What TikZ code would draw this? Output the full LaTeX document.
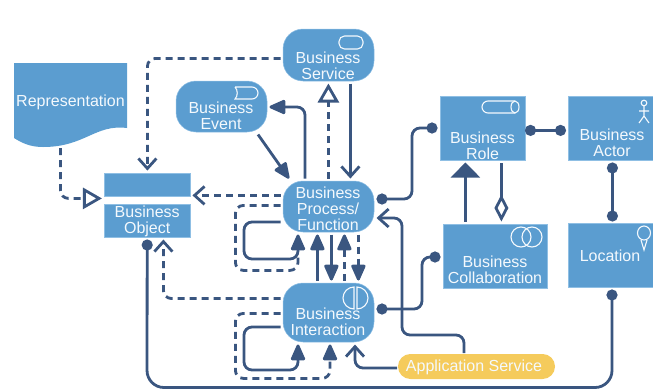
\documentclass[tikz,border=0pt]{standalone}
\usepackage{fontspec}
\setmainfont{Liberation Sans}
\usetikzlibrary{arrows.meta,shapes.geometric}
\definecolor{bluefill}{HTML}{5B9DD0}
\definecolor{blueedge}{HTML}{8FBFE4}
\definecolor{navy}{HTML}{3A5680}
\definecolor{gold}{HTML}{F5CB5C}
\definecolor{paletext}{HTML}{F4F9FD}
\tikzset{
  x=1pt,y=-1pt,
  boxnode/.style={draw=blueedge,line width=.5pt,fill=bluefill,inner sep=0pt,outer sep=2.5pt},
  roundnode/.style={boxnode,rounded corners=20pt,minimum width=91pt},
  txt/.style={text=paletext,font=\fontsize{16}{16}\selectfont,align=center,inner sep=0pt},
  icon/.style={draw=paletext,line width=1.1pt},
  conn/.style={draw=navy,line width=2.8pt,rounded corners=8pt},
  dashconn/.style={conn,dash pattern=on 7pt off 5pt},
  fulltip/.style={-{Triangle[length=18pt,width=15pt,fill=navy,round=false]}},
  hollowtip/.style={-{Triangle[open,length=19pt,width=21pt,line width=2.8pt]}},
  barbtip/.style={-{Straight Barb[length=10pt,width=18pt,line width=2.8pt]}},
  dotboth/.style={{Circle[length=11pt]}-{Circle[length=11pt]}}
}
\begin{document}
\begin{tikzpicture}
\useasboundingbox (0,0) rectangle (653,389);
% Representation
\fill[bluefill] (14,63) -- (127,63) -- (127,128) .. controls (95,124) and (85,147) .. (43,147) .. controls (30,147) and (22,143) .. (14,138) -- cycle;
\node[txt] (repT) at (70.5,102) {Representation};
\coordinate (repB) at (60.4,148);
% Object
\node[boxnode,minimum width=85.5pt,minimum height=23.5pt] (objH) at (147.2,184.8) {};
\node[boxnode,minimum width=85.5pt,minimum height=33pt] (obj) at (147.2,220.5) {};
\node[txt] at (147.2,221.3) {Business\\Object};
% Rounded nodes
\node[roundnode,minimum height=52pt] (svc) at (328.5,55) {};
\node[txt] at (328,65.5) {Business\\Service};
\node[roundnode,minimum height=51pt] (evt) at (221.5,106.5) {};
\node[txt] at (221,116) {Business\\Event};
\node[roundnode,minimum height=51pt] (prc) at (328.5,206.5) {};
\node[txt] at (328,209) {Business\\Process/\\Function};
\node[roundnode,minimum height=59pt] (itr) at (328.5,312.5) {};
\node[txt] at (328,322) {Business\\Interaction};
% Right boxes
\node[boxnode,minimum width=85pt,minimum height=64pt] (rol) at (482.5,128) {};
\node[txt] at (482.5,145.5) {Business\\Role};
\node[boxnode,minimum width=90pt,minimum height=64pt] (act) at (613.5,128) {};
\node[txt] at (612,143) {Business\\Actor};
\node[boxnode,minimum width=104pt,minimum height=64pt] (col) at (495,256) {};
\node[txt] at (495,269.5) {Business\\Collaboration};
\node[boxnode,minimum width=90pt,minimum height=64pt] (loc) at (613.5,255) {};
\node[txt] at (610,256) {Location};
\node[fill=gold,rounded corners=12.4pt,inner sep=0pt,minimum width=157pt,minimum height=25pt,outer sep=1pt] (app) at (476.5,366.5) {};
\node[txt] at (474,367) {Application Service};
% Icons
\draw[icon,rounded corners=5.5pt] (339,36) rectangle (363,49);
\draw[icon] (235,87) -- (252,87) arc[start angle=90,end angle=-90,x radius=6pt,y radius=6pt] -- (235,99) .. controls (238,96) and (238,90) .. (235,87);
\draw[icon] (519,107) arc[start angle=0,end angle=360,x radius=4pt,y radius=6pt];
\draw[icon] (515,101) -- (488,101) arc[start angle=90,end angle=270,x radius=6pt,y radius=6pt] -- (515,113);
\draw[icon] (644,103) circle[radius=2.8pt] (644,106) -- (644,116) (639,111) -- (649,111) (639,123) -- (644,116) -- (649,123);
\draw[icon] (521,237) circle[radius=10pt] (532,237) circle[radius=10pt];
\draw[icon] (644,233) ellipse[x radius=6.5pt,y radius=7pt] (641,240) -- (644,250) -- (647,240);
\draw[icon] (354,287) arc[start angle=90,end angle=270,x radius=11pt,y radius=11pt] -- cycle;
\draw[icon] (357,287) arc[start angle=90,end angle=-90,x radius=11pt,y radius=11pt] -- cycle;
% Connectors
\draw[dashconn,barbtip] (svc.west |- 0,58.4) -- (147.4,58.4) -- (objH.north -| 147.4,0);
\draw[dashconn,hollowtip] (repB) -- (60.4,198.4) -- (objH.west |- 0,198.4);
\draw[dashconn,barbtip] (prc.west |- 0,195.4) -- (objH.east |- 0,195.4);
\draw[dashconn,hollowtip] (prc.north -| 328.4,0) -- (svc.south -| 328.4,0);
\draw[conn,barbtip] (svc.south -| 350.4,0) -- (prc.north -| 350.4,0);
\draw[conn,fulltip] (prc.north -| 305,0) -- (305,107) -- (evt.east |- 0,107);
\draw[conn,fulltip] (evt.south -| 258,0) -- (prc.north -| 289,0);
\draw[conn,fulltip] (prc.west |- 0,222) -- (244,222) -- (244,259) -- (298,259) -- (prc.south -| 298,0);
\draw[dashconn] (prc.west |- 0,205.4) -- (235.4,205.4) -- (235.4,270.4) -- (298,270.4) -- (298,256);
\draw[conn,fulltip] (itr.north -| 317.4,0) -- (prc.south -| 317.4,0);
\draw[conn,fulltip] (prc.south -| 331.4,0) -- (itr.north -| 331.4,0);
\draw[dashconn,fulltip] (itr.north -| 344.4,0) -- (prc.south -| 344.4,0);
\draw[dashconn,fulltip] (prc.south -| 358.4,0) -- (itr.north -| 358.4,0);
\draw[dashconn,barbtip] (itr.west |- 0,298.5) -- (163.4,298.5) -- (obj.south -| 163.4,0);
\draw[conn,fulltip] (itr.west |- 0,327) -- (244,327) -- (244,370) -- (298,370) -- (itr.south -| 298,0);
\draw[dashconn,fulltip] (itr.west |- 0,313.4) -- (235.4,313.4) -- (235.4,378.4) -- (330,378.4) -- (itr.south -| 330,0);
\draw[conn,barbtip] (app.west |- 0,368) -- (355,368) -- (itr.south -| 355,0);
\draw[conn,barbtip] (app.north -| 464,0) -- (464,335) -- (402,335) -- (402,218) -- (prc.east |- 0,218);
\draw[conn,dotboth] (prc.east |- 0,199) -- (412,199) -- (412,128) -- (rol.west |- 0,128);
\draw[conn,dotboth] (itr.east |- 0,309) -- (422,309) -- (422,257) -- (col.west |- 0,257);
\draw[conn,dotboth,shorten <=-2.5pt] (rol.east |- 0,130.4) -- (act.west |- 0,130.4);
\draw[conn,dotboth] (act.south -| 612.4,0) -- (col.north -| 612.4,0);
\draw[conn,-{Triangle[length=15pt,width=29pt,fill=navy]}] (col.north -| 465.4,0) -- (rol.south -| 465.4,0);
\draw[conn,{Diamond[open,length=27pt,width=14pt,line width=2.8pt]}-] (col.north -| 501.4,0) -- (rol.south -| 501.4,0);
\draw[conn,dotboth,rounded corners=17pt] (loc.south -| 612,0) -- (612,387.5) -- (147,387.5) -- (obj.south);
\end{tikzpicture}
\end{document}
